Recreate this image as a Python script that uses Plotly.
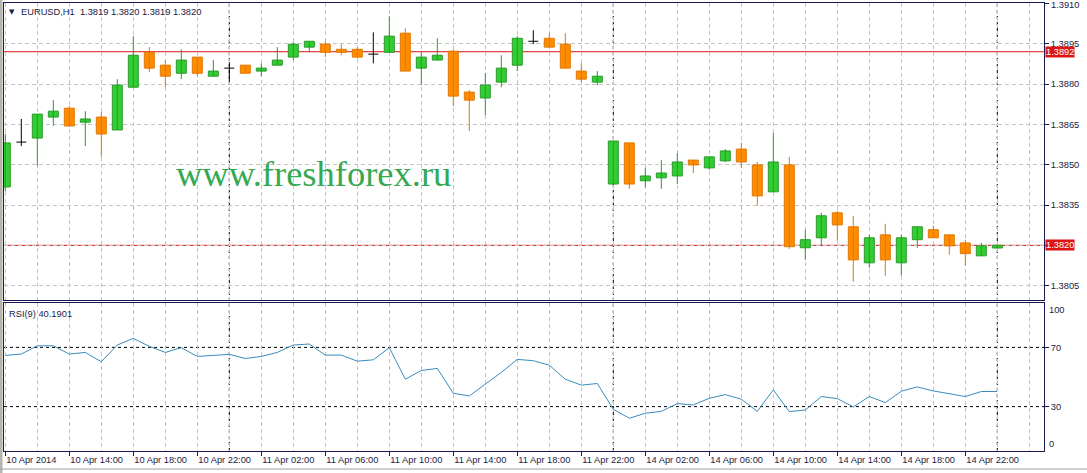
import plotly.graph_objects as go

# ---------------- data ----------------
symbol = "EURUSD,H1"
opens = [1.38417, 1.38584, 1.38599, 1.38677, 1.38710, 1.38658, 1.38677, 1.38629, 1.38788, 1.38918,
         1.38870, 1.38840, 1.38900, 1.38829, 1.38859, 1.38870, 1.38848, 1.38870, 1.38900, 1.38937,
         1.38948, 1.38929, 1.38929, 1.38911, 1.38918, 1.38989, 1.38859, 1.38889, 1.38922, 1.38770,
         1.38748, 1.38807, 1.38870, 1.38959, 1.38970, 1.38948, 1.38848, 1.38807, 1.38428, 1.38581,
         1.38440, 1.38451, 1.38458, 1.38517, 1.38488, 1.38514, 1.38558, 1.38499, 1.38399, 1.38499,
         1.38191, 1.38228, 1.38321, 1.38269, 1.38135, 1.38239, 1.38135, 1.38221, 1.38258, 1.38239,
         1.38209, 1.38161, 1.38190]
highs = [1.38614, 1.38670, 1.38688, 1.38740, 1.38718, 1.38699, 1.38696, 1.38818, 1.38978, 1.38937,
         1.38889, 1.38929, 1.38900, 1.38889, 1.38881, 1.38870, 1.38877, 1.38937, 1.38955, 1.38959,
         1.38959, 1.38948, 1.38937, 1.38992, 1.39052, 1.39007, 1.38918, 1.38970, 1.38929, 1.38777,
         1.38840, 1.38907, 1.38978, 1.39000, 1.38989, 1.38989, 1.38877, 1.38848, 1.38588, 1.38581,
         1.38488, 1.38517, 1.38543, 1.38517, 1.38529, 1.38558, 1.38581, 1.38510, 1.38618, 1.38529,
         1.38258, 1.38321, 1.38328, 1.38310, 1.38239, 1.38280, 1.38239, 1.38269, 1.38273, 1.38239,
         1.38221, 1.38209, 1.38200]
lows = [1.38400, 1.38569, 1.38496, 1.38644, 1.38640, 1.38569, 1.38529, 1.38629, 1.38788, 1.38844,
        1.38788, 1.38818, 1.38829, 1.38829, 1.38807, 1.38840, 1.38829, 1.38870, 1.38889, 1.38918,
        1.38900, 1.38907, 1.38895, 1.38877, 1.38918, 1.38848, 1.38796, 1.38889, 1.38718, 1.38625,
        1.38684, 1.38788, 1.38848, 1.38948, 1.38937, 1.38859, 1.38807, 1.38796, 1.38428, 1.38410,
        1.38417, 1.38410, 1.38428, 1.38469, 1.38480, 1.38510, 1.38488, 1.38347, 1.38399, 1.38187,
        1.38146, 1.38198, 1.38217, 1.38065, 1.38117, 1.38087, 1.38087, 1.38191, 1.38228, 1.38165,
        1.38124, 1.38161, 1.38190]
closes = [1.38581, 1.38584, 1.38688, 1.38699, 1.38644, 1.38670, 1.38614, 1.38796, 1.38907, 1.38859,
          1.38829, 1.38889, 1.38840, 1.38848, 1.38859, 1.38840, 1.38859, 1.38889, 1.38948, 1.38959,
          1.38918, 1.38918, 1.38900, 1.38911, 1.38978, 1.38848, 1.38900, 1.38907, 1.38755, 1.38740,
          1.38796, 1.38859, 1.38970, 1.38959, 1.38937, 1.38859, 1.38818, 1.38829, 1.38588, 1.38428,
          1.38458, 1.38469, 1.38510, 1.38499, 1.38529, 1.38551, 1.38510, 1.38384, 1.38510, 1.38195,
          1.38221, 1.38310, 1.38276, 1.38146, 1.38228, 1.38146, 1.38228, 1.38269, 1.38228, 1.38198,
          1.38169, 1.38198, 1.38200]
rsi_values = [64.6, 65.5, 71.1, 71.1, 65.5, 66.6, 60.3, 71.6, 76.1, 70.7,
              66.6, 69.8, 63.9, 64.4, 65.3, 62.5, 63.9, 66.6, 71.6, 72.3,
              64.8, 64.8, 60.7, 61.6, 69.8, 48.5, 54.4, 55.8, 39.0, 37.2,
              45.1, 53.1, 61.9, 61.0, 58.0, 48.5, 44.5, 45.6, 28.2, 22.1,
              25.5, 26.8, 32.0, 31.1, 35.6, 38.1, 35.0, 26.8, 41.3, 26.6,
              27.7, 36.8, 35.4, 29.8, 36.8, 32.7, 40.4, 43.3, 40.6, 38.8,
              36.8, 40.2, 40.1901]
rsi_period = 9
tick_bars = [0, 4, 8, 12, 16, 20, 24, 28, 32, 36, 40, 44, 48, 52, 56, 60]
tick_labels = ["10 Apr 2014", "10 Apr 14:00", "10 Apr 18:00", "10 Apr 22:00",
               "11 Apr 02:00", "11 Apr 06:00", "11 Apr 10:00", "11 Apr 14:00",
               "11 Apr 18:00", "11 Apr 22:00", "14 Apr 02:00", "14 Apr 06:00",
               "14 Apr 10:00", "14 Apr 14:00", "14 Apr 18:00", "14 Apr 22:00"]
day_start_bars = [14, 38, 62]
price_ticks = [1.3805, 1.3820, 1.3835, 1.3850, 1.3865, 1.3880, 1.3895, 1.3910]
level_prices = [1.3892, 1.3820]
rsi_levels = [70, 30]
watermark = "www.freshforex.ru"

# ---------------- style ----------------
W, H = 1087, 473
ML, MR, MT, MB = 4, 43, 3, 22
PW, PH = W - ML - MR, H - MT - MB
BAR_PX = 16.0
X0_PX = 5.3
BODY_W = 10.0 / BAR_PX
FONT = "Liberation Sans"
TXT = "#1a1a46"
FRAME = "#1a1a50"
GRID = "#c4c4c4"
BULL_FILL, BULL_EDGE = "#32CD32", "#2a9a2a"
BEAR_FILL, BEAR_EDGE = "#FF8C00", "#e07800"
RED = "#dc1414"
RSI_COLOR = "#3a8cbc"


def py(pix):  # pixel row -> paper y
    return (MT + PH - pix) / PH


def px(pix):  # pixel col -> paper x
    return (pix - ML) / PW


x_lo = (ML - X0_PX) / BAR_PX
x_hi = (ML + PW - X0_PX) / BAR_PX
price_top = 1.3880 + (84 - 3) / 26889.0
price_bot = 1.3880 - (300 - 84) / 26889.0

idx = list(range(len(opens)))
bull = [i for i in idx if closes[i] > opens[i]]
bear = [i for i in idx if closes[i] < opens[i]]
doji = [i for i in idx if closes[i] == opens[i]]


def wick_xy(ids):
    xs, ys = [], []
    for i in ids:
        xs += [i, i, None]
        ys += [lows[i], highs[i], None]
    return xs, ys


fig = go.Figure()

for ids, col in ((bull, BULL_EDGE), (bear, BEAR_EDGE), (doji, "#000000")):
    wx, wy = wick_xy(ids)
    fig.add_trace(go.Scatter(x=wx, y=wy, mode="lines", line=dict(color=col, width=1),
                             hoverinfo="skip", showlegend=False, xaxis="x", yaxis="y"))

# doji horizontal bars
dx, dy = [], []
for i in doji:
    dx += [i - BODY_W / 2, i + BODY_W / 2, None]
    dy += [opens[i], opens[i], None]
fig.add_trace(go.Scatter(x=dx, y=dy, mode="lines", line=dict(color="#000000", width=1),
                         hoverinfo="skip", showlegend=False, xaxis="x", yaxis="y"))

fig.add_trace(go.Bar(x=bull, base=[opens[i] for i in bull],
                     y=[closes[i] - opens[i] for i in bull], width=BODY_W,
                     marker=dict(color=BULL_FILL, line=dict(color=BULL_EDGE, width=1)),
                     hoverinfo="skip", showlegend=False, xaxis="x", yaxis="y"))
fig.add_trace(go.Bar(x=bear, base=[closes[i] for i in bear],
                     y=[opens[i] - closes[i] for i in bear], width=BODY_W,
                     marker=dict(color=BEAR_FILL, line=dict(color=BEAR_EDGE, width=1)),
                     hoverinfo="skip", showlegend=False, xaxis="x", yaxis="y"))

fig.add_trace(go.Scatter(x=idx, y=rsi_values, mode="lines", line=dict(color=RSI_COLOR, width=1),
                         hoverinfo="skip", showlegend=False, xaxis="x2", yaxis="y2"))

shapes = []
for lv in level_prices:
    shapes.append(dict(type="line", xref="paper", x0=0, x1=1, yref="y", y0=lv, y1=lv,
                       line=dict(color=RED, width=1), layer="below"))
for lv in rsi_levels:
    shapes.append(dict(type="line", xref="paper", x0=0, x1=1, yref="y2", y0=lv, y1=lv,
                       line=dict(color="#000000", width=1, dash="3px,3px"), layer="below"))
for b in day_start_bars:
    shapes.append(dict(type="line", xref="x", x0=b, x1=b, yref="paper", y0=0, y1=1,
                       line=dict(color="#000000", width=1, dash="3px,3px"), layer="below"))
# window frame on the left / bottom
shapes.append(dict(type="rect", xref="paper", x0=px(0), x1=px(2.5), yref="paper",
                   y0=py(H), y1=py(0), fillcolor="#b8b4ac", line=dict(width=0)))
shapes.append(dict(type="line", xref="paper", x0=px(0), x1=px(W), yref="paper",
                   y0=py(469), y1=py(469), line=dict(color="#a0a0a0", width=1)))

top_tick = max(price_ticks)

annotations = [
    dict(text="▼", xref="paper", yref="paper", x=px(7), y=py(12), xanchor="left",
         yanchor="middle", showarrow=False, font=dict(family="DejaVu Sans", size=7, color=TXT)),
    dict(text=symbol + "\u00a0\u00a0" + " ".join(f"{v:.4f}" for v in [opens[-1], highs[-1], lows[-1], closes[-1]]),
         xref="paper", yref="paper", x=px(19), y=py(12), xanchor="left", yanchor="middle",
         showarrow=False, font=dict(family=FONT, size=9.3, color=TXT)),
    dict(text=f"RSI({rsi_period}) {rsi_values[-1]:.4f}", xref="paper", yref="paper",
         x=px(7), y=py(314), xanchor="left", yanchor="middle", showarrow=False,
         font=dict(family=FONT, size=9.3, color=TXT)),
    dict(text=watermark, xref="paper", yref="paper", x=px(174), y=py(173), xanchor="left",
         yanchor="middle", showarrow=False,
         font=dict(family="Liberation Serif", size=36.5, color="#35a852")),
    dict(text="100", xref="paper", yref="y2", x=1, y=100, xanchor="left", yanchor="top",
         xshift=3, showarrow=False, font=dict(family=FONT, size=9.3, color=TXT)),
    dict(text="0", xref="paper", yref="y2", x=1, y=0, xanchor="left", yanchor="bottom",
         xshift=3, showarrow=False, font=dict(family=FONT, size=9.3, color=TXT)),
    dict(text=f"{top_tick:.4f}", xref="paper", yref="paper", x=1, y=py(5), xanchor="left",
         yanchor="middle", xshift=5, showarrow=False, font=dict(family=FONT, size=9.3, color=TXT)),
]
for lv in level_prices:
    annotations.append(dict(text=f"{lv:.4f}", xref="paper", yref="y", x=1, y=lv,
                            xanchor="left", yanchor="middle", xshift=1, showarrow=False,
                            bgcolor=RED, borderpad=0,
                            font=dict(family=FONT, size=9.3, color="#ffffff")))

# price tick labels: those under a level box or drawn separately are left blank
price_tick_text = ["" if (any(abs(t - lv) < 1e-9 for lv in level_prices) or t == top_tick)
                   else f"{t:.4f}" for t in price_ticks]

minor_vals = list(range(0, 66, 2))
common_x = dict(range=[x_lo, x_hi], showgrid=True, gridcolor=GRID, griddash="4px,3px",
                gridwidth=1, zeroline=False, showline=True, linecolor=FRAME, linewidth=1,
                mirror=True, tickmode="array", tickvals=tick_bars,
                minor=dict(tickvals=minor_vals, showgrid=True, gridcolor=GRID,
                           griddash="4px,3px", gridwidth=1, ticks=""))

fig.update_layout(
    width=W, height=H,
    margin=dict(l=ML, r=MR, t=MT, b=MB, pad=0),
    paper_bgcolor="#ffffff", plot_bgcolor="#ffffff",
    barmode="overlay", showlegend=False,
    font=dict(family=FONT, size=9.3, color=TXT),
    xaxis=dict(domain=[0, 1], anchor="y", showticklabels=False, ticks="", **common_x),
    xaxis2=dict(domain=[0, 1], anchor="y2", matches="x", ticktext=tick_labels,
                ticks="outside", ticklen=4, tickcolor=FRAME,
                ticklabelposition="outside right", **common_x),
    yaxis=dict(domain=[py(300), 1], anchor="x", side="right", range=[price_bot, price_top],
               tickmode="array", tickvals=price_ticks, ticktext=price_tick_text,
               ticks="outside", ticklen=4, tickcolor=FRAME,
               showgrid=True, gridcolor=GRID, griddash="4px,3px", gridwidth=1,
               zeroline=False, showline=True, linecolor=FRAME, linewidth=1, mirror=True),
    yaxis2=dict(domain=[0, py(303)], anchor="x2", side="right", range=[0, 100],
                tickmode="array", tickvals=rsi_levels, ticks="outside", ticklen=4,
                tickcolor=FRAME, showgrid=False, zeroline=False, showline=True,
                linecolor=FRAME, linewidth=1, mirror=True),
    shapes=shapes,
    annotations=annotations,
)

fig.write_html("out.html", config={"displayModeBar": False},
               post_script="document.body.style.margin='0';document.body.style.overflow='hidden';")
